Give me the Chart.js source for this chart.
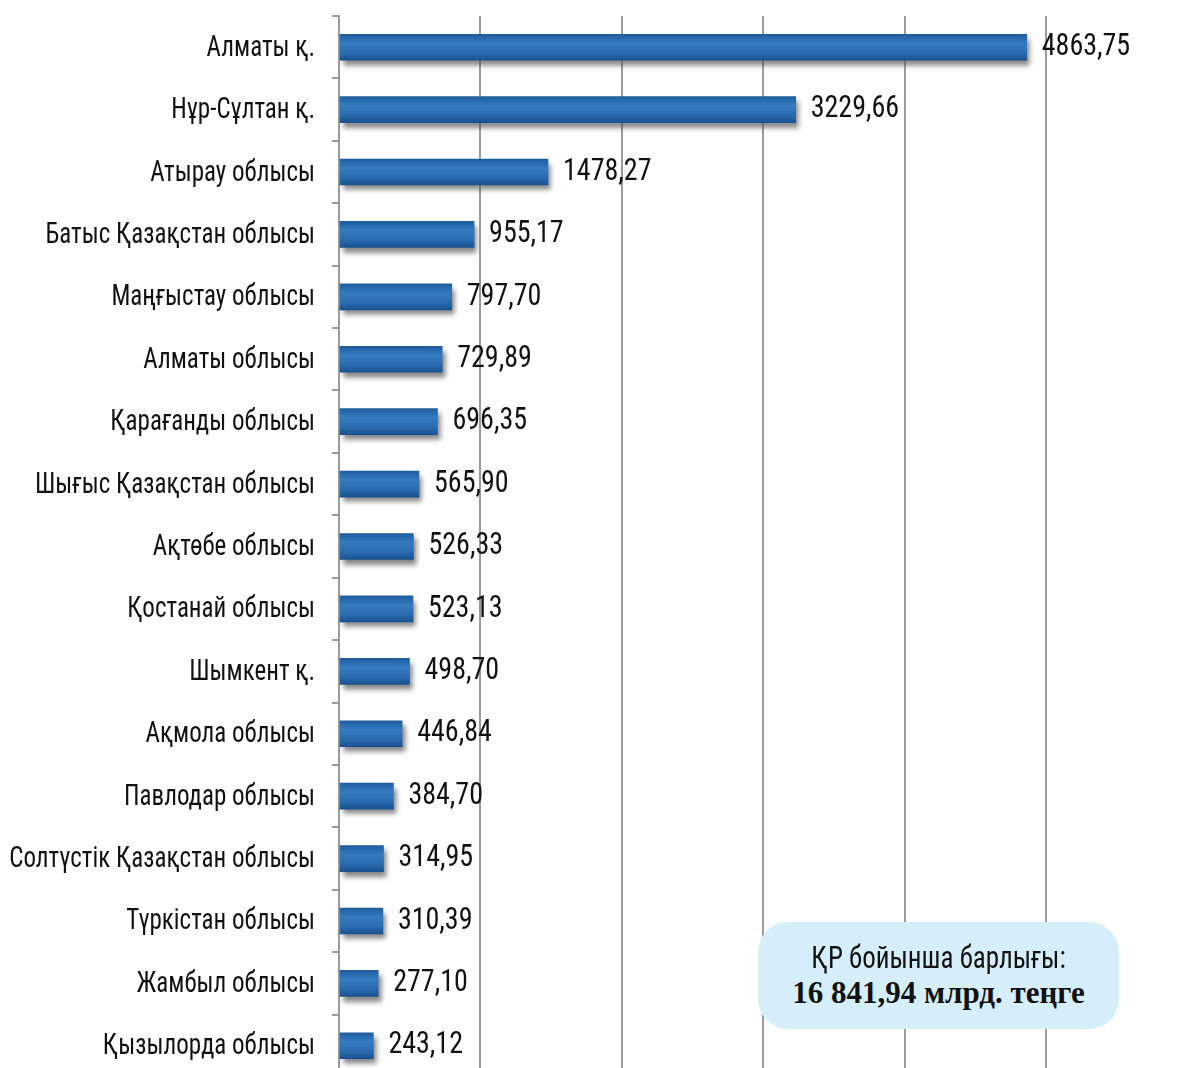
<!DOCTYPE html>
<html>
<head>
<meta charset="utf-8">
<script src="https://cdn.jsdelivr.net/npm/chart.js@4.4.1/dist/chart.umd.min.js"></script>
<style>
    html, body { margin: 0; padding: 0; background: #fff; overflow: hidden; }
    #wrap { position: relative; width: 1177px; height: 1077px; }
    #totalBox {
        position: absolute; left: 758px; top: 922px; width: 361px; height: 107px;
        background: #d5eef9; border-radius: 30px; text-align: center; color: #111;
    }
    #totalBox .l1 {
        font-family: 'Roboto Condensed', sans-serif; font-size: 27px;
        margin-top: 20px; line-height: 32px; transform: scaleY(1.15);
    }
    #totalBox .l2 {
        font-family: 'Liberation Serif', 'Times New Roman', serif; font-weight: bold;
        font-size: 31px; line-height: 38px;
    }
</style>
</head>
<body>
<div id="wrap">
    <canvas id="regionChart" width="1177" height="1077"></canvas>
    <div id="totalBox">
        <div class="l1">ҚР бойынша барлығы:</div>
        <div class="l2">16 841,94 млрд. теңге</div>
    </div>
</div>
<script>
const regions = [
    'Алматы қ.', 'Нұр-Сұлтан қ.', 'Атырау облысы', 'Батыс Қазақстан облысы',
    'Маңғыстау облысы', 'Алматы облысы', 'Қарағанды облысы', 'Шығыс Қазақстан облысы',
    'Ақтөбе облысы', 'Қостанай облысы', 'Шымкент қ.', 'Ақмола облысы',
    'Павлодар облысы', 'Солтүстік Қазақстан облысы', 'Түркістан облысы',
    'Жамбыл облысы', 'Қызылорда облысы'
];
const amounts = [
    4863.75, 3229.66, 1478.27, 955.17, 797.70, 729.89, 696.35, 565.90,
    526.33, 523.13, 498.70, 446.84, 384.70, 314.95, 310.39, 277.10, 243.12
];
const xTicks = [0, 1000, 2000, 3000, 4000, 5000];

const narrow = "'Roboto Condensed', sans-serif";
const BAR_H = 26;

function fmt(v) {
    return v.toFixed(2).replace('.', ',');
}

// gradient per bar, built from the y scale position
function barGradient(context) {
    const chart = context.chart;
    const yScale = chart.scales.y;
    if (!yScale || context.dataIndex === undefined) return '#2f72b8';
    const cy = yScale.getPixelForValue(context.dataIndex);
    if (!isFinite(cy)) return '#2f72b8';
    const g = chart.ctx.createLinearGradient(0, cy - BAR_H / 2, 0, cy + BAR_H / 2);
    g.addColorStop(0, '#1e5d9d');
    g.addColorStop(0.35, '#357bc1');
    g.addColorStop(0.7, '#2a6cb0');
    g.addColorStop(1, '#18528f');
    return g;
}

const shadowPlugin = {
    id: 'barShadow',
    beforeDatasetDraw(chart) {
        const ctx = chart.ctx;
        ctx.save();
        ctx.shadowColor = 'rgba(70,70,70,0.65)';
        ctx.shadowOffsetX = 3;
        ctx.shadowOffsetY = 5;
        ctx.shadowBlur = 5;
    },
    afterDatasetDraw(chart) {
        chart.ctx.restore();
    }
};

// the source font is a tall narrow face, so the text gets a little vertical stretch
function tallText(ctx, text, x, y, sy) {
    ctx.save();
    ctx.translate(x, y);
    ctx.scale(1, sy);
    ctx.fillText(text, 0, 0);
    ctx.restore();
}

const textPlugin = {
    id: 'texts',
    afterDatasetsDraw(chart) {
        const ctx = chart.ctx;
        const yScale = chart.scales.y;
        const meta = chart.getDatasetMeta(0);
        ctx.save();
        ctx.fillStyle = '#111';
        ctx.textBaseline = 'middle';

        // category labels
        ctx.font = '25px ' + narrow;
        ctx.textAlign = 'right';
        regions.forEach((name, i) => {
            tallText(ctx, name, yScale.right - 24, yScale.getPixelForValue(i) + 1, 1.2);
        });

        // values
        ctx.font = '28px ' + narrow;
        ctx.textAlign = 'left';
        meta.data.forEach((bar, i) => {
            tallText(ctx, fmt(amounts[i]), bar.x + 15, bar.y, 1.1);
        });
        ctx.restore();
    }
};

new Chart(document.getElementById('regionChart'), {
    type: 'bar',
    data: {
        labels: regions,
        datasets: [{
            data: amounts,
            backgroundColor: barGradient,
            borderWidth: 0,
            barThickness: BAR_H
        }]
    },
    options: {
        indexAxis: 'y',
        responsive: false,
        animation: false,
        layout: { padding: { top: 16, right: 131, bottom: 0, left: 0 } },
        plugins: {
            legend: { display: false },
            tooltip: { enabled: false }
        },
        scales: {
            x: {
                min: 0,
                max: 5000,
                afterBuildTicks: (scale) => { scale.ticks = xTicks.map(v => ({ value: v })); },
                afterFit: (scale) => { scale.height = 0; },
                ticks: { display: false },
                grid: { color: '#9a9a9a', lineWidth: 2, drawTicks: false },
                border: { display: false }
            },
            y: {
                afterFit: (scale) => {
                    scale.width = 339;
                    scale.paddingTop = 0;
                    scale.paddingBottom = 0;
                },
                ticks: { display: false },
                grid: { drawOnChartArea: false, color: '#9a9a9a', lineWidth: 2, tickLength: 7 },
                border: { color: '#9a9a9a', width: 2 }
            }
        }
    },
    plugins: [shadowPlugin, textPlugin]
});
</script>
</body>
</html>
